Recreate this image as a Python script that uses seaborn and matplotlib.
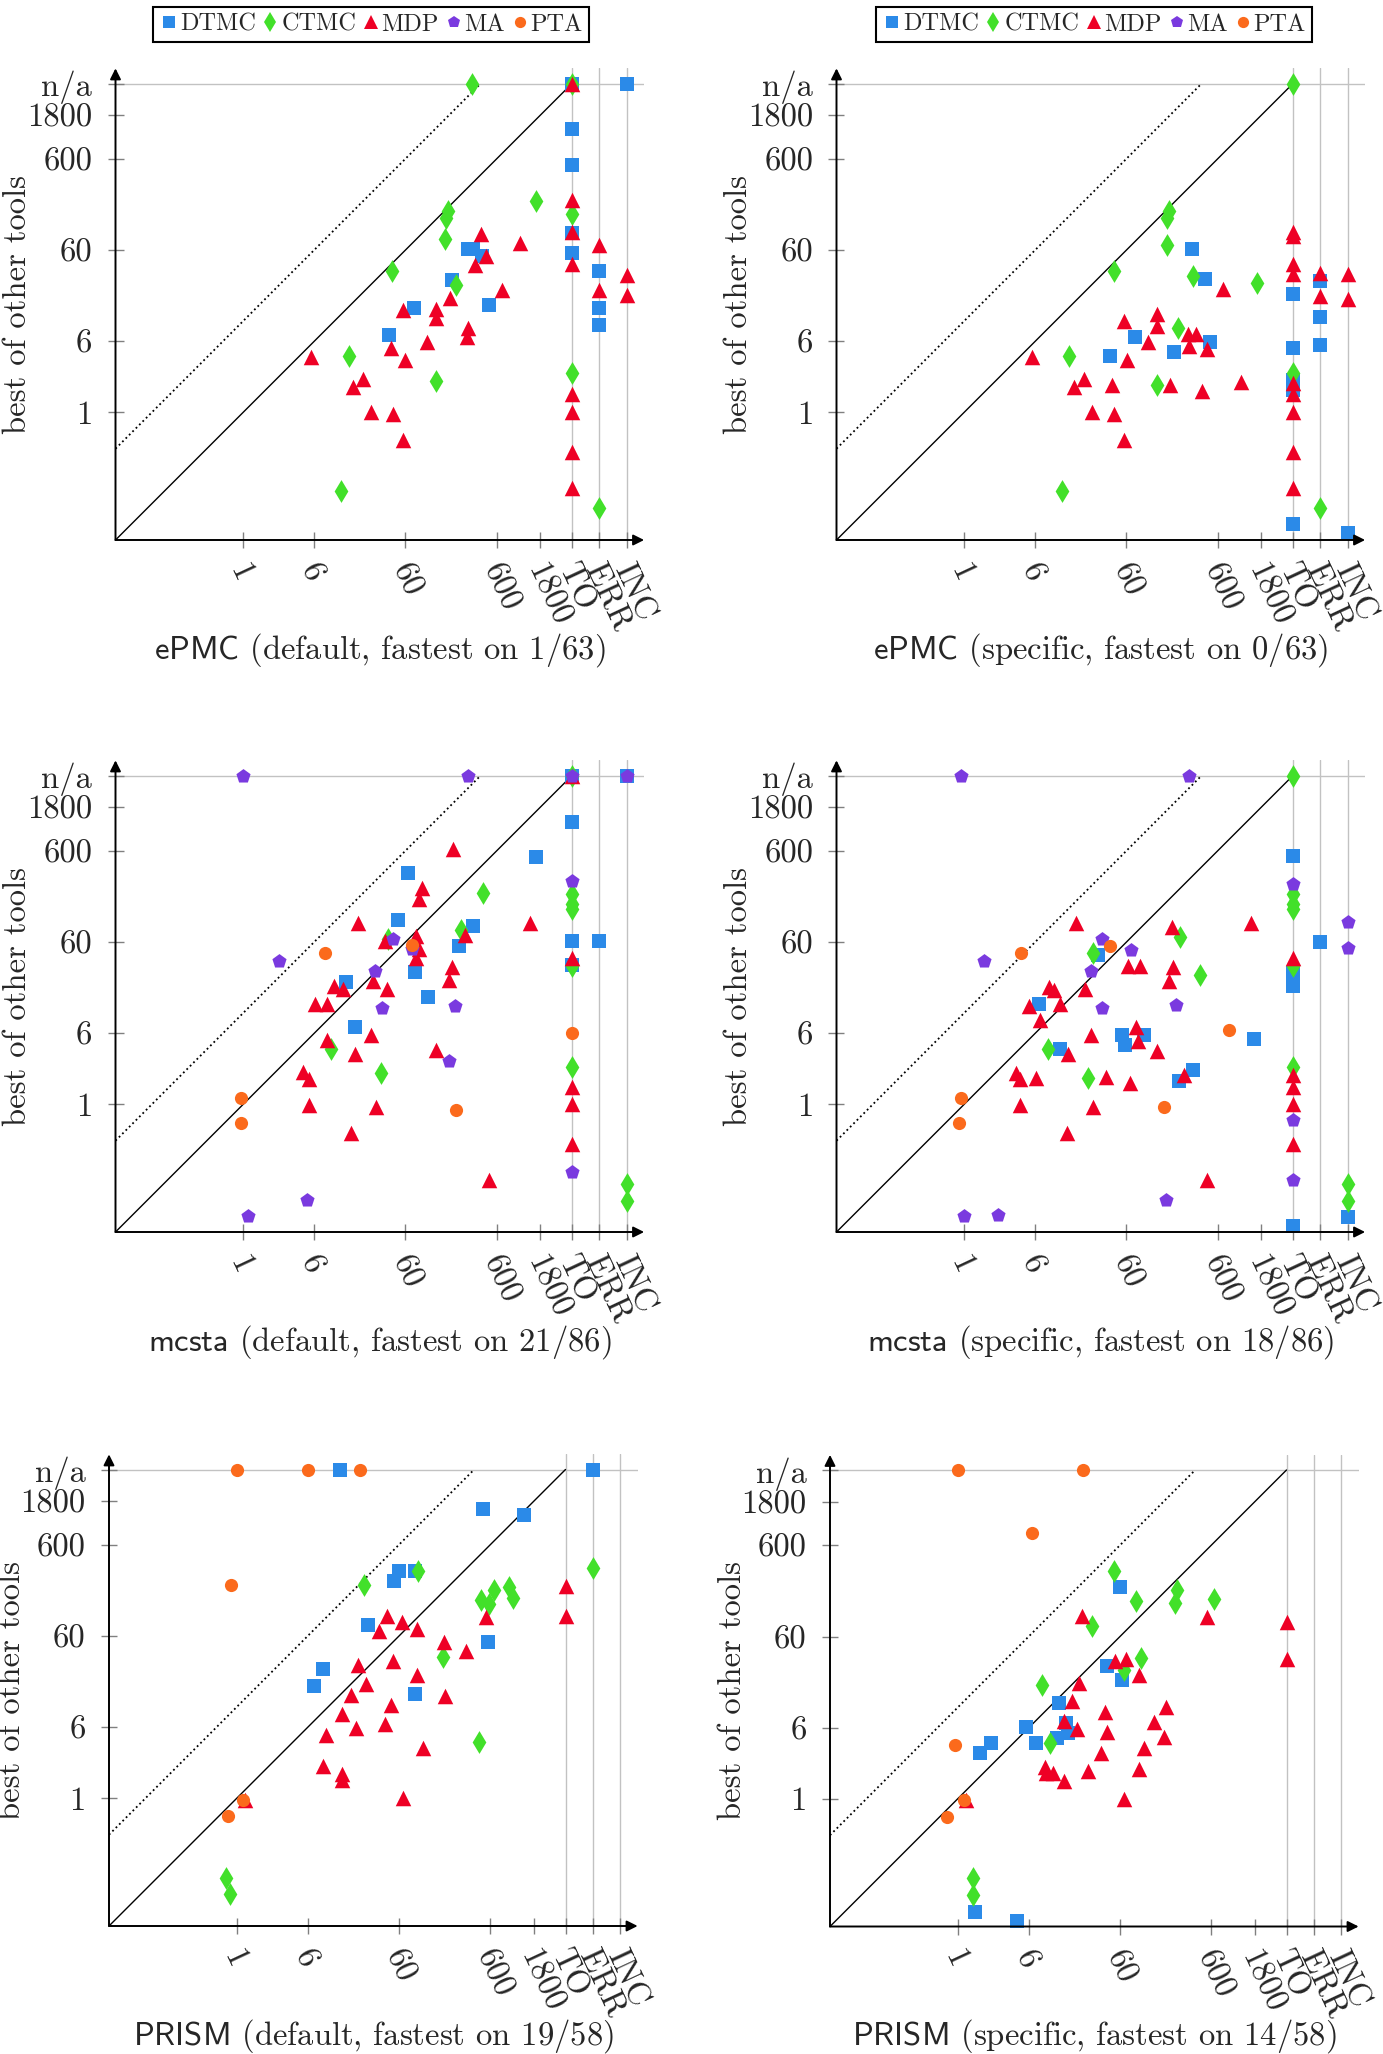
import numpy as np
import pandas as pd
import matplotlib
matplotlib.use('Agg')
import matplotlib.pyplot as plt
import seaborn as sns
from matplotlib.lines import Line2D
from matplotlib.ticker import NullLocator
from matplotlib.transforms import ScaledTranslation

# special categories on the log axes
TO, ERR, INC, NA = 4000, 8000, 16000, 4000

# ePMC (default)
epmc_def_dtmc = [(TO, NA), (INC, NA), (TO, 1260), (TO, 513), (TO, 93), (TO, 55), (290, 61), (330, 61),
                 (415, 52), (196, 28), (75, 14), (493, 15), (40, 7.1), (ERR, 35), (ERR, 14), (ERR, 9)]
epmc_def_ctmc = [(322, NA), (TO, NA), (1620, 208), (TO, 147), (175, 160), (166, 136), (164, 80), (43, 35),
                 (215, 25), (14.3, 4.1), (129, 2.2), (TO, 2.7), (11.7, 0.136), (ERR, 0.09)]
epmc_def_mdp = [(TO, NA), (TO, 210), (TO, 95), (TO, 42), (TO, 1.6), (TO, 1.0), (TO, 0.37), (TO, 0.15),
                (ERR, 68), (ERR, 22), (INC, 32), (INC, 19.5), (403, 90), (1082, 72), (456, 51), (344, 41),
                (690, 22), (183, 18), (57, 13.3), (131, 13.6), (131, 10.9), (291, 8.4), (284, 6.7),
                (102, 5.9), (42, 5.1), (60, 3.7), (5.6, 4.0), (20.5, 2.3), (16, 1.9), (25, 1.0),
                (44, 0.95), (56, 0.5)]

# ePMC (specific)
epmc_spec_dtmc = [(TO, 19.9), (TO, 5.1), (TO, 2.24), (TO, 1.76), (TO, 0.06), (ERR, 27.6), (ERR, 11),
                  (ERR, 5.5), (INC, 0.048), (311, 61), (430, 29), (75, 6.75), (497, 5.9), (39.5, 4.1),
                  (199, 4.6)]
epmc_spec_ctmc = [(TO, NA), (176, 160), (167, 136), (167, 68), (43.7, 35), (325, 31), (1620, 26.4),
                  (218, 8.4), (14.2, 4.1), (129, 2.0), (TO, 2.7), (11.9, 0.136), (ERR, 0.09)]
epmc_spec_mdp = [(TO, 95), (TO, 85), (TO, 42), (TO, 33), (TO, 2.1), (TO, 1.6), (TO, 1.0), (TO, 0.37),
                 (TO, 0.15), (ERR, 34), (ERR, 18.6), (INC, 33), (INC, 17.5), (686, 22.4), (56.5, 10.1),
                 (130, 11.9), (130, 8.9), (104, 5.9), (284, 7.3), (348, 7.3), (291, 5.4), (459, 5.0),
                 (61, 3.7), (5.6, 4.0), (20.3, 2.3), (16, 1.9), (41.8, 2.0), (180, 2.0), (406, 1.7),
                 (1084, 2.15), (25.3, 1.0), (44.3, 0.95), (56.5, 0.5)]

# mcsta (default)
mcsta_def_dtmc = [(TO, NA), (INC, NA), (TO, 1234), (1603, 514), (64, 340), (50, 104), (333, 90), (TO, 61),
                  (ERR, 61), (232, 54), (TO, 34), (77, 28), (13.5, 22), (106, 15), (16.6, 7.0)]
mcsta_def_ctmc = [(TO, NA), (TO, 203), (TO, 158), (TO, 137), (426, 208), (243, 82), (38.5, 64), (TO, 33),
                  (9.1, 4.05), (32.5, 2.2), (TO, 2.56), (INC, 0.134), (INC, 0.088)]
mcsta_def_mdp = [(TO, NA), (201, 620), (91, 232), (84.5, 176), (17.9, 97), (1384, 97), (36, 62), (79, 70),
                 (84.5, 50), (79, 40), (266, 72), (194, 32), (179, 23), (26.6, 22.6), (37.6, 18.3),
                 (10, 19.6), (12.5, 18.3), (6.2, 12.5), (8.2, 12.5), (8.2, 5.05), (25, 5.8), (16.6, 3.56),
                 (128, 3.9), (4.5, 2.27), (5.2, 1.88), (5.2, 0.98), (28.7, 0.93), (15.1, 0.49),
                 (493, 0.148), (TO, 40), (TO, 1.55), (TO, 1.01), (TO, 0.366)]
mcsta_def_ma = [(1.0, NA), (291, NA), (TO, NA), (INC, NA), (TO, 279), (2.5, 37), (28, 29), (44, 64),
                (70.6, 50), (33.3, 11.5), (210, 12.1), (181, 3.0), (TO, 0.18), (5.0, 0.09), (1.12, 0.06)]
mcsta_def_pta = [(7.9, 46), (70.6, 55), (TO, 6.1), (0.95, 1.18), (0.94, 0.63), (212, 0.87)]

# mcsta (specific)
mcsta_spec_dtmc = [(TO, 526), (TO, 27.5), (TO, 19.8), (ERR, 60), (INC, 0.059), (TO, 0.047), (29, 43.5),
                   (6.65, 12.5), (11.2, 4.05), (53.5, 5.75), (58.5, 4.5), (93, 5.75), (1514, 5.15),
                   (228, 1.8), (318, 2.35)]
mcsta_spec_ctmc = [(TO, NA), (TO, 203), (TO, 158), (TO, 137), (TO, 33), (TO, 2.56), (233, 68), (384, 26),
                   (25.9, 45), (8.3, 4.05), (22.9, 1.95), (INC, 0.134), (INC, 0.088)]
mcsta_spec_mdp = [(16.6, 97), (1400, 97), (188, 87), (TO, 40), (63, 33), (83.5, 33), (193, 31.7),
                  (176, 22.6), (8.5, 19.4), (9.7, 17.7), (21.2, 18.3), (5.15, 12.1), (11.2, 12.5),
                  (6.8, 8.5), (24.5, 5.75), (77, 7.0), (81, 4.9), (128, 3.84), (13.6, 3.56), (3.7, 2.22),
                  (4.1, 1.88), (6.2, 1.93), (35.4, 2.0), (65, 1.7), (255, 2.1), (4.1, 0.98), (25.9, 0.93),
                  (13.3, 0.49), (454, 0.148), (TO, 2.1), (TO, 1.55), (TO, 1.01), (TO, 0.366)]
mcsta_spec_ma = [(0.935, NA), (291, NA), (TO, 258), (INC, 100), (INC, 51), (1.67, 37), (32, 64),
                 (66.8, 49), (24.5, 29), (32, 11.3), (211, 12.2), (TO, 0.667), (TO, 0.149), (163, 0.09),
                 (1.0, 0.06), (2.33, 0.0615)]
mcsta_spec_pta = [(4.2, 46), (39.5, 54), (802, 6.6), (0.935, 1.18), (0.885, 0.63), (154, 0.93)]

# PRISM (default)
prism_def_dtmc = [(13.7, NA), (ERR, NA), (501, 1460), (1390, 1267), (60, 306), (89, 306), (53, 239),
                  (27.4, 79), (561, 51), (8.8, 26), (7.1, 16.8), (89, 13.8)]
prism_def_ctmc = [(ERR, 330), (96, 306), (25, 219), (960, 209), (663, 192), (1074, 155), (479, 147),
                  (579, 136), (182, 35), (453, 4.1), (0.773, 0.135), (0.836, 0.089)]
prism_def_mdp = [(TO, 214), (TO, 100), (44.4, 100), (536, 97), (65, 85), (36.3, 68.6), (94, 72), (185, 51),
                 (323, 40.7), (51.9, 32), (21.2, 28.8), (94, 22.5), (25.9, 18.1), (17.9, 13.5),
                 (193, 13.1), (49, 10.6), (14.3, 8.5), (42.4, 6.45), (20.5, 5.85), (9.6, 5.0), (109, 3.6),
                 (8.8, 2.25), (14.3, 1.87), (14.3, 1.58), (65.8, 1.0), (1.25, 0.97)]
prism_def_pta = [(1.0, NA), (6.0, NA), (22.6, NA), (0.865, 219), (1.18, 0.97), (0.8, 0.64)]

# PRISM (specific)
prism_spec_dtmc = [(60, 207), (42.8, 28.8), (63, 20.2), (12.8, 11.2), (5.56, 6.2), (15.3, 6.7),
                   (16.2, 5.25), (12.3, 4.66), (7.2, 4.1), (2.33, 4.1), (1.75, 3.2), (1.56, 0.058),
                   (4.5, 0.0465)]
prism_spec_ctmc = [(52, 313), (254, 192), (635, 155), (90, 147), (241, 139), (30, 79), (101, 35),
                   (66.8, 26), (8.3, 17.7), (10.4, 4.1), (1.46, 0.135), (1.46, 0.089)]
prism_spec_mdp = [(TO, 87), (TO, 34), (23.2, 100), (543, 97), (52.3, 32), (69, 34), (96.5, 22.5),
                  (21.4, 18.7), (17.9, 11.8), (193, 10.1), (41.4, 8.9), (14.5, 7.2), (143, 7.0),
                  (20.3, 5.85), (42.8, 5.4), (182, 4.8), (110, 3.6), (37, 3.2), (9.0, 2.25), (9.3, 1.92),
                  (11.2, 1.92), (14.5, 1.58), (26.5, 2.0), (96.5, 2.1), (66.8, 1.0), (1.25, 0.97)]
prism_spec_pta = [(1.0, NA), (23.9, NA), (6.6, 812), (0.935, 3.9), (1.17, 0.97), (0.774, 0.64)]

x_ticks = [1, 6, 60, 600, 1800, TO, ERR, INC]
x_ticklabels = ['1', '6', '60', '600', '1800', 'TO', 'ERR', 'INC']
y_ticks = [1, 6, 60, 600, 1800, NA]
y_ticklabels = ['1', '6', '60', '600', '1800', 'n/a']

types = ['DTMC', 'CTMC', 'MDP', 'MA', 'PTA']
colors = {'DTMC': '#2b8ae8', 'CTMC': '#42e02a', 'MDP': '#ee0025', 'MA': '#7a3adf', 'PTA': '#fb6a1c'}
markers = {'DTMC': 's', 'CTMC': 'd', 'MDP': '^', 'MA': 'p', 'PTA': 'o'}
msize = {'DTMC': 100, 'CTMC': 135, 'MDP': 125, 'MA': 115, 'PTA': 90}

sns.set_theme(style='white')
plt.rcParams['font.family'] = 'serif'
plt.rcParams['font.serif'] = ['cmr10']
plt.rcParams['mathtext.fontset'] = 'cm'
plt.rcParams['axes.formatter.use_mathtext'] = True
plt.rcParams['axes.unicode_minus'] = False

W, H = 1383, 2054
D = 91.3                       # px per decade
XMIN, XMAX = 0.04, 24660
YMIN, YMAX = 0.04, 5860
AW = np.log10(XMAX / XMIN) * D
AH = np.log10(YMAX / YMIN) * D

fig = plt.figure(figsize=(W / 100, H / 100), dpi=100)


def make_df(**groups):
    rows = []
    for t, pts in groups.items():
        for x, y in pts:
            rows.append({'x': x, 'y': y, 'type': t.upper()})
    return pd.DataFrame(rows)


def draw_panel(x0, y0, df, tool, mode, fastest):
    ax = fig.add_axes([x0 / W, (H - y0) / H, AW / W, AH / H])
    ax.set_xscale('log')
    ax.set_yscale('log')

    for v in [TO, ERR, INC]:
        ax.axvline(v, color='#c2c2c2', lw=1.0, zorder=0)
    ax.axhline(NA, color='#c2c2c2', lw=1.0, zorder=0)
    ax.plot([XMIN, TO], [YMIN, NA], color='black', lw=1.0, zorder=1)
    ax.plot([XMIN, 400], [10 * YMIN, 4000], color='black', lw=1.3, ls=':', zorder=1)

    for i, t in enumerate(types):
        sub = df[df['type'] == t]
        if sub.empty:
            continue
        sns.scatterplot(data=sub, x='x', y='y', marker=markers[t], color=colors[t], s=msize[t],
                        linewidth=0, ax=ax, zorder=3 + i, clip_on=False)

    ax.set_xlim(XMIN, XMAX)
    ax.set_ylim(YMIN, YMAX)
    ax.set_xlabel('')
    ax.set_ylabel('')
    for s in ax.spines.values():
        s.set_visible(False)
    for tip in [(1, 0), (0, 1)]:
        ax.annotate('', xy=tip, xytext=(0, 0), xycoords='axes fraction',
                    arrowprops=dict(arrowstyle='-|>', color='black', lw=1.4, mutation_scale=16,
                                    shrinkA=0, shrinkB=0))

    ax.xaxis.set_minor_locator(NullLocator())
    ax.yaxis.set_minor_locator(NullLocator())
    ax.set_xticks(x_ticks)
    ax.set_xticklabels(x_ticklabels)
    ax.set_yticks(y_ticks)
    ax.set_yticklabels(y_ticklabels)
    ax.tick_params(axis='both', which='major', direction='inout', length=11.5, width=1.0,
                   color='#808080', labelsize=23.5, bottom=True, left=True)
    ax.tick_params(axis='y', pad=11)
    ax.tick_params(axis='x', pad=8)
    shift = ScaledTranslation(7 / 100, 0, fig.dpi_scale_trans)
    for lab in ax.get_xticklabels():
        lab.set_rotation(-65)
        lab.set_ha('left')
        lab.set_va('top')
        lab.set_rotation_mode('anchor')
        lab.set_transform(lab.get_transform() + shift)

    ax.text(0.5, -110 / AH, r'$\mathsf{' + tool + '}$ (' + mode + ', fastest on ' + fastest + ')',
            transform=ax.transAxes, ha='center', va='center', fontsize=23.5)
    ax.text(-98 / AW, 0.5, 'best of other tools', transform=ax.transAxes, rotation=90,
            ha='center', va='center', fontsize=23.5)
    return ax


panels = [
    (115.5, 540, make_df(dtmc=epmc_def_dtmc, ctmc=epmc_def_ctmc, mdp=epmc_def_mdp), 'ePMC', 'default', '1/63'),
    (836.5, 540, make_df(dtmc=epmc_spec_dtmc, ctmc=epmc_spec_ctmc, mdp=epmc_spec_mdp), 'ePMC', 'specific', '0/63'),
    (115.5, 1232, make_df(dtmc=mcsta_def_dtmc, ctmc=mcsta_def_ctmc, mdp=mcsta_def_mdp, ma=mcsta_def_ma,
                          pta=mcsta_def_pta), 'mcsta', 'default', '21/86'),
    (836.5, 1232, make_df(dtmc=mcsta_spec_dtmc, ctmc=mcsta_spec_ctmc, mdp=mcsta_spec_mdp, ma=mcsta_spec_ma,
                          pta=mcsta_spec_pta), 'mcsta', 'specific', '18/86'),
    (109, 1926, make_df(dtmc=prism_def_dtmc, ctmc=prism_def_ctmc, mdp=prism_def_mdp, pta=prism_def_pta),
     'PRISM', 'default', '19/58'),
    (830, 1926.5, make_df(dtmc=prism_spec_dtmc, ctmc=prism_spec_ctmc, mdp=prism_spec_mdp, pta=prism_spec_pta),
     'PRISM', 'specific', '14/58'),
]

for p in panels:
    draw_panel(*p)

# legends above the top row
handles = [Line2D([], [], ls='none', marker=markers[t], color=colors[t], markeredgewidth=0,
                  markersize=np.sqrt(msize[t]) * 0.85, label=t) for t in types]
for cx in [371, 1094]:
    leg = fig.legend(handles=handles, loc='center', bbox_to_anchor=(cx / W, 1 - 24.5 / H), ncol=5,
                     frameon=True, fancybox=False, edgecolor='black', framealpha=1, fontsize=17.5,
                     handletextpad=0.05, columnspacing=0.2, handlelength=0.8, borderpad=0.25,
                     borderaxespad=0)
    leg.get_frame().set_linewidth(1.5)

fig.savefig('out.png', dpi=100)
